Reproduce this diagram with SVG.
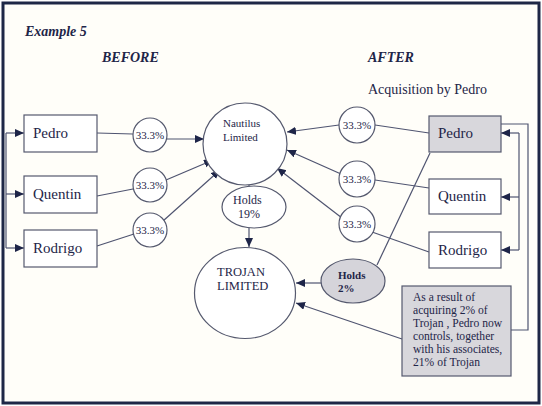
<svg xmlns="http://www.w3.org/2000/svg" width="542" height="406" viewBox="0 0 542 406">
<defs>
<marker id="ah" markerUnits="userSpaceOnUse" markerWidth="10" markerHeight="9" refX="9" refY="4" orient="auto">
<path d="M0,0 L9,4 L0,8 z" fill="#1e2548"/>
</marker>
<style>
.t{font-family:"Liberation Serif","Times New Roman",serif;fill:#1e2548}
.h{font-weight:bold;font-style:italic;font-size:14px}
.bx{fill:#ffffff;stroke:#55596e;stroke-width:1.2}
.gx{fill:#d8d7dc;stroke:#55596e;stroke-width:1.2}
.c{fill:#ffffff;stroke:#55596e;stroke-width:1.2}
.g{fill:#d5d4da;stroke:#55596e;stroke-width:1.2}
.ln{fill:none;stroke:#4f5470;stroke-width:1.2}
.ar{fill:none;stroke:#4f5470;stroke-width:1.2;marker-end:url(#ah)}
.nm{font-size:15px}
.pc{font-size:11px;text-anchor:middle}
</style>
</defs>
<rect x="0" y="0" width="542" height="406" fill="#ffffff"/>
<rect x="3" y="3" width="536" height="400" fill="#fffef9" stroke="#1e2746" stroke-width="3"/>

<text class="t h" x="25" y="36">Example 5</text>
<text class="t h" x="102" y="62">BEFORE</text>
<text class="t h" x="368" y="62">AFTER</text>
<text class="t" x="368" y="94" font-size="14">Acquisition by Pedro</text>

<g id="connectors">
<path class="ln" d="M6,133 V248"/>
<path class="ar" d="M6,133 H24"/>
<path class="ar" d="M6,194 H24"/>
<path class="ar" d="M6,248 H24"/>
<path class="ln" d="M97,133 L133,134"/>
<path class="ar" d="M167,139 L204,139"/>
<path class="ln" d="M97,196 L133,189"/>
<path class="ar" d="M166,180 L213,160"/>
<path class="ln" d="M97,246 L134,234"/>
<path class="ar" d="M163,221 L220,170"/>
<path class="ln" d="M249,185 V188"/>
<path class="ar" d="M249,228 V247"/>
<path class="ln" d="M429,133 L375,125"/>
<path class="ar" d="M339,125 L287,132"/>
<path class="ln" d="M429,188 L375,180"/>
<path class="ar" d="M341,174 L287,150"/>
<path class="ln" d="M429,252 L372,232"/>
<path class="ar" d="M342,218 L277,168"/>
<path class="ln" d="M430,153 L377,265"/>
<path class="ar" d="M321,283 L296,283"/>
<path class="ar" d="M402,339 L296,303"/>
<path class="ln" d="M501,124 H528 V330 H511"/>
<path class="ln" d="M519,133 V250"/>
<path class="ar" d="M519,133 H501"/>
<path class="ar" d="M519,197 H501"/>
<path class="ar" d="M519,250 H501"/>
</g>

<g id="pedro-before"><rect class="bx" x="24" y="115" width="73" height="37"/><text class="t nm" x="33" y="138">Pedro</text></g>
<g id="quentin-before"><rect class="bx" x="24" y="176" width="73" height="37"/><text class="t nm" x="33" y="199">Quentin</text></g>
<g id="rodrigo-before"><rect class="bx" x="24" y="230" width="73" height="37"/><text class="t nm" x="33" y="253">Rodrigo</text></g>

<g id="pct-l1"><circle class="c" cx="150" cy="135" r="17"/><text class="t pc" x="150" y="139">33.3%</text></g>
<g id="pct-l2"><circle class="c" cx="150" cy="185" r="17"/><text class="t pc" x="150" y="189">33.3%</text></g>
<g id="pct-l3"><circle class="c" cx="150" cy="230" r="17"/><text class="t pc" x="150" y="234">33.3%</text></g>

<g id="nautilus"><ellipse class="c" cx="245" cy="144" rx="42" ry="41"/><text class="t" x="223" y="127" font-size="11">Nautilus</text><text class="t" x="223" y="141" font-size="11">Limited</text></g>
<g id="holds19"><ellipse class="c" cx="254" cy="207" rx="32" ry="21"/><text class="t" x="233" y="204" font-size="12">Holds</text><text class="t" x="238" y="218" font-size="12">19%</text></g>
<g id="trojan"><ellipse class="c" cx="245" cy="293" rx="50.5" ry="45.5"/><text class="t" x="217" y="276" font-size="12.5">TROJAN</text><text class="t" x="217" y="290" font-size="12.5">LIMITED</text></g>

<g id="pct-r1"><circle class="c" cx="357" cy="125" r="18"/><text class="t pc" x="357" y="129">33.3%</text></g>
<g id="pct-r2"><circle class="c" cx="357" cy="179" r="18"/><text class="t pc" x="357" y="183">33.3%</text></g>
<g id="pct-r3"><circle class="c" cx="357" cy="224" r="18"/><text class="t pc" x="357" y="228">33.3%</text></g>

<g id="holds2"><ellipse class="g" cx="353" cy="281" rx="32" ry="22"/><text class="t" x="338" y="279" font-size="11" font-weight="bold">Holds</text><text class="t" x="338" y="292" font-size="11" font-weight="bold">2%</text></g>

<g id="pedro-after"><rect class="gx" x="429" y="116" width="72" height="36"/><text class="t nm" x="438" y="138">Pedro</text></g>
<g id="quentin-after"><rect class="bx" x="429" y="179" width="72" height="35"/><text class="t nm" x="438" y="201">Quentin</text></g>
<g id="rodrigo-after"><rect class="bx" x="429" y="232" width="72" height="36"/><text class="t nm" x="438" y="255">Rodrigo</text></g>

<g id="note"><rect class="gx" x="402" y="286" width="109" height="90"/>
<text class="t" font-size="11.6"><tspan x="413" y="301">As a result of</tspan><tspan x="413" y="314">acquiring 2% of</tspan><tspan x="413" y="327">Trojan , Pedro now</tspan><tspan x="413" y="340">controls, together</tspan><tspan x="413" y="353">with his associates,</tspan><tspan x="413" y="366">21% of Trojan</tspan></text></g>
</svg>
